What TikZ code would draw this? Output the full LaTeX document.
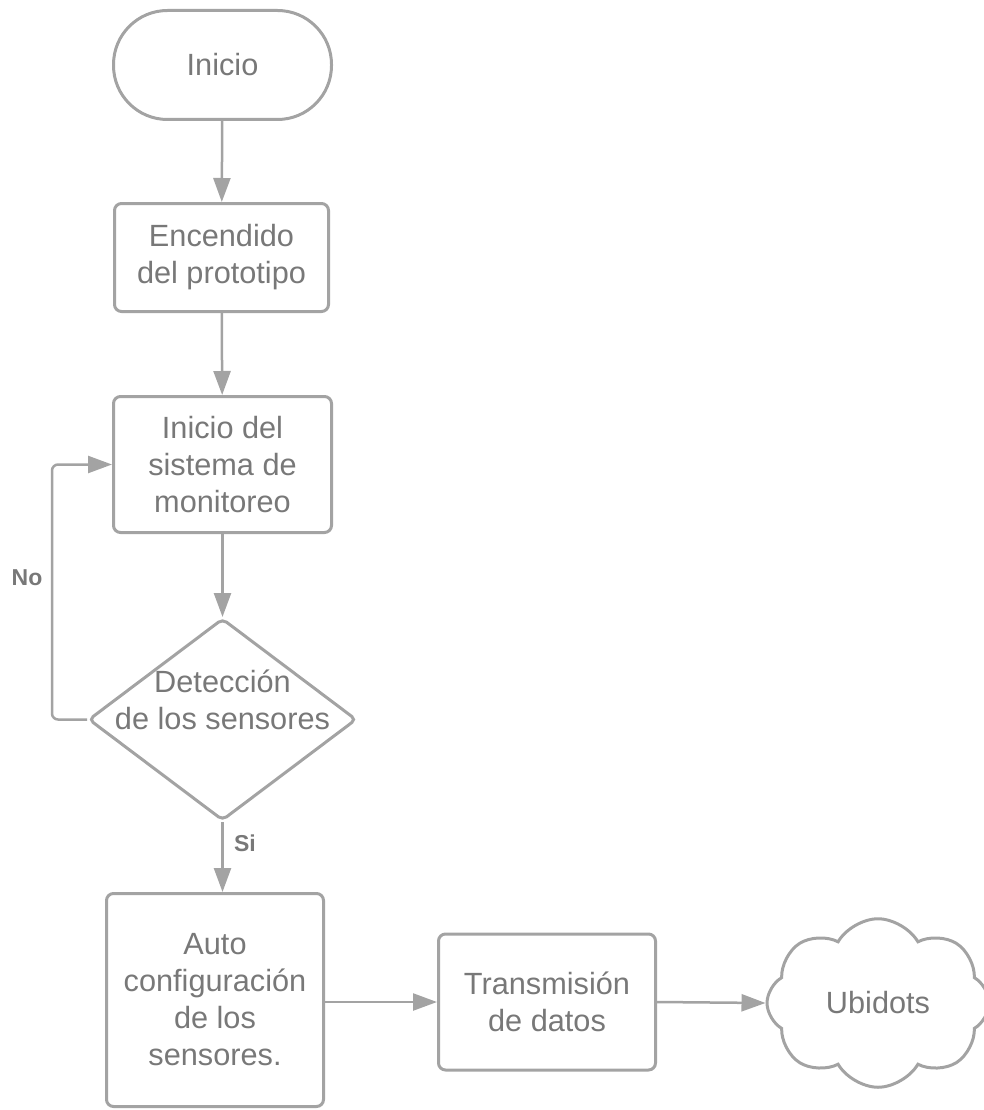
\documentclass[tikz,border=0pt]{standalone}
\usepackage{fontspec}
\setmainfont{Liberation Sans}
\usetikzlibrary{arrows.meta,shapes.geometric,shapes.symbols}
\definecolor{linegray}{HTML}{A3A3A3}
\definecolor{textgray}{HTML}{787878}

\begin{document}
\begin{tikzpicture}[x=1pt,y=-1pt,
    every node/.style={text=textgray,font=\fontsize{30.7}{37}\selectfont,align=center},
    box/.style={draw=linegray,line width=3pt,rounded corners=7pt,inner sep=0pt},
    decision/.style={diamond,draw=linegray,line width=3pt,rounded corners=5pt,inner sep=0pt,
        minimum width=268pt,minimum height=202pt},
    cloudbox/.style={cloud,cloud puffs=8,cloud puff arc=120,draw=linegray,line width=3pt,
        inner sep=0pt,minimum width=222pt,minimum height=168pt},
    lbl/.style={font=\bfseries\fontsize{23}{27}\selectfont},
    arr/.style={draw=linegray,line width=2.5pt,-{Triangle[length=24pt,width=17pt]}}]

    \useasboundingbox (0,0) rectangle (984,1110);

    \node[box,rounded corners=54pt,minimum width=218pt,minimum height=109pt] (inicio) at (222.5,65) {Inicio};
    \node[box,minimum width=214pt,minimum height=108pt] (encendido) at (221.5,257.5) {Encendido\\del prototipo};
    \node[box,minimum width=218pt,minimum height=136pt] (sistema) at (222.5,464.5) {Inicio del\\sistema de\\monitoreo};
    \node[decision] (deteccion) at (222.5,719.5) {};
    \node (detTxt) at (222.5,700) {Detección\\de los sensores};
    \node[box,minimum width=217pt,minimum height=213pt] (autoconf) at (215,1000) {Auto\\configuración\\de los\\sensores.};
    \node[box,minimum width=217pt,minimum height=136pt] (transm) at (547,1002) {Transmisión\\de datos};
    \node[cloudbox] (ubidots) at (878,1003) {Ubidots};

    \node[lbl] (noLbl) at (27,578) {No};
    \node[lbl] (siLbl) at (245,843) {Si};

    \draw[arr] (inicio) -- (encendido);
    \draw[arr] (encendido) -- (sistema);
    \draw[arr] (sistema) -- (deteccion);
    \draw[arr,rounded corners=6pt] (deteccion.west) -- ++(-35,0) |- (sistema.west);
    \draw[arr] (deteccion.south) -- (deteccion.south |- autoconf.north);
    \draw[arr] (autoconf.east |- transm.west) -- (transm.west);
    \draw[arr] (transm.east) -- (ubidots.west);

\end{tikzpicture}
\end{document}
